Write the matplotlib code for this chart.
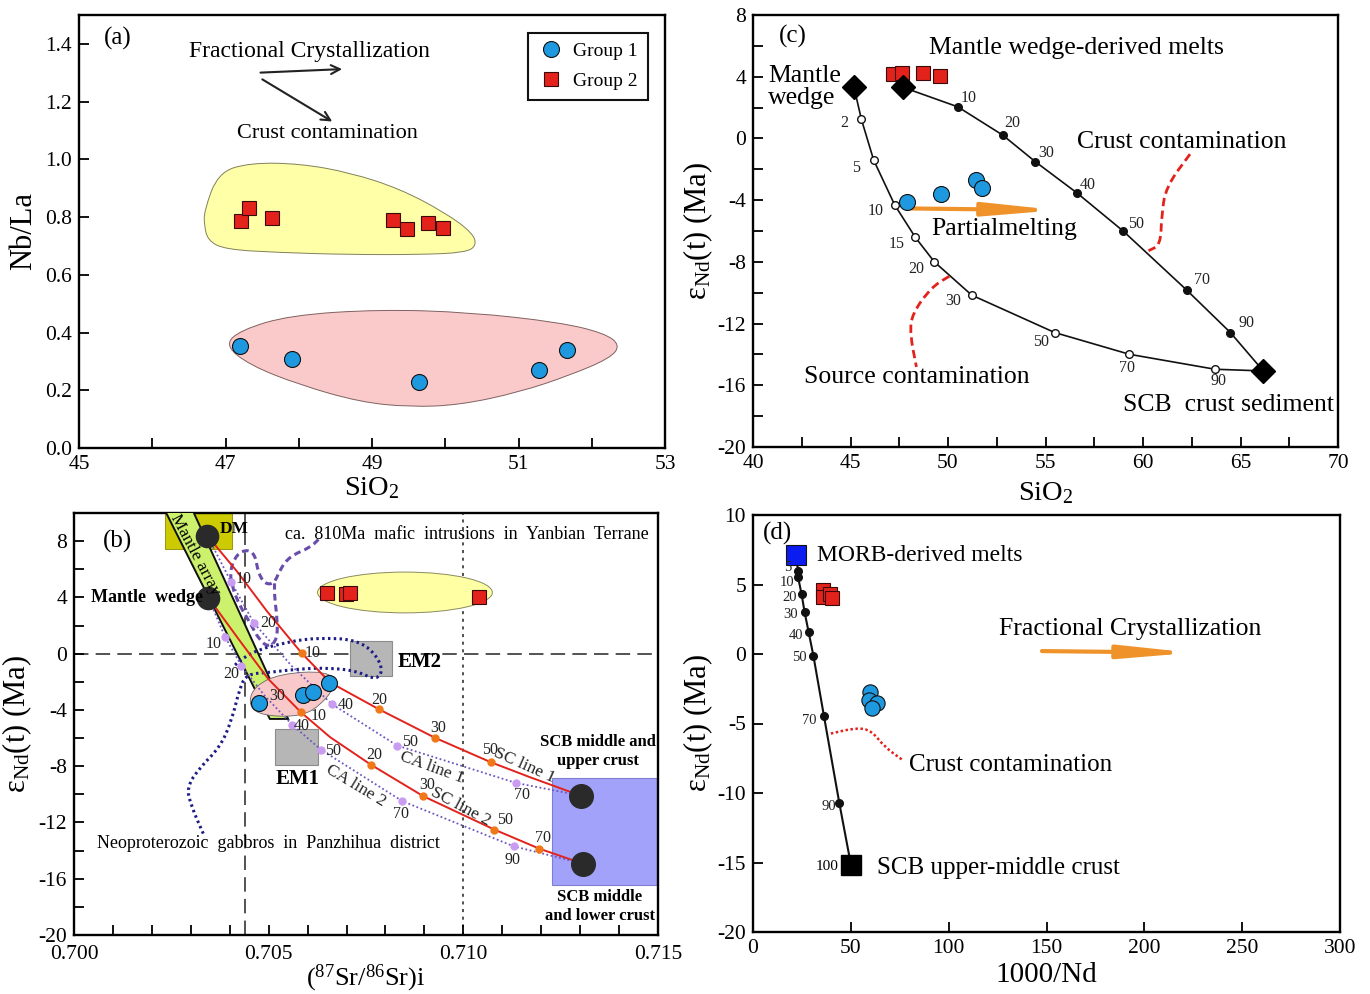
import numpy as np
import matplotlib
matplotlib.use('Agg')
import matplotlib.pyplot as plt
from matplotlib.path import Path
from matplotlib.patches import PathPatch, Rectangle, Polygon, Ellipse
from matplotlib.lines import Line2D
from matplotlib.ticker import MultipleLocator, FixedLocator, FormatStrFormatter

plt.rcParams['font.family'] = ['Liberation Serif', 'DejaVu Serif']
plt.rcParams['mathtext.fontset'] = 'custom'
plt.rcParams['mathtext.rm'] = 'Liberation Serif'
plt.rcParams['mathtext.it'] = 'Liberation Serif:italic'
plt.rcParams['axes.unicode_minus'] = False

# ---------------- data ----------------
# (a) Nb/La vs SiO2
a_g1_x = [47.20, 47.91, 49.64, 51.28, 51.66]
a_g1_y = [0.352, 0.307, 0.228, 0.269, 0.338]
a_g2_x = [47.21, 47.32, 47.63, 49.29, 49.48, 49.76, 49.97]
a_g2_y = [0.787, 0.832, 0.798, 0.791, 0.760, 0.781, 0.763]
a_yellow = [(46.71, 0.822), (46.90, 0.954), (47.33, 0.988), (48.02, 0.985), (48.70, 0.954),
            (49.38, 0.898), (50.00, 0.815), (50.37, 0.746), (50.43, 0.701), (50.27, 0.677),
            (49.66, 0.670), (48.70, 0.670), (47.74, 0.677), (46.99, 0.688), (46.76, 0.719),
            (46.71, 0.771)]
a_pink = [(46.99, 0.356), (47.20, 0.408), (47.88, 0.460), (49.11, 0.480), (50.34, 0.470),
          (51.57, 0.435), (52.18, 0.397), (52.39, 0.356), (52.25, 0.311), (51.70, 0.252),
          (51.02, 0.194), (50.20, 0.149), (49.52, 0.142), (48.84, 0.159), (48.02, 0.218),
          (47.33, 0.287)]

# (c) eNd(t) vs SiO2
c_wedge_x = [45.18, 47.70]
c_wedge_y = [3.31, 3.31]
c_scb = (66.17, -15.07)
c_g2_x = [47.20, 47.66, 48.74, 49.57]
c_g2_y = [4.17, 4.26, 4.22, 4.05]
c_g1_x = [47.88, 49.64, 51.42, 51.76]
c_g1_y = [-4.11, -3.57, -2.70, -3.24]
c_cc_pct = ['10', '20', '30', '40', '50', '70', '90']
c_cc_x = [50.50, 52.80, 54.48, 56.60, 58.99, 62.25, 64.48]
c_cc_y = [2.05, 0.22, -1.51, -3.52, -6.01, -9.84, -12.58]
c_sc_pct = ['2', '5', '10', '15', '20', '30', '50', '70', '90']
c_sc_x = [45.56, 46.19, 47.27, 48.33, 49.30, 51.22, 55.47, 59.30, 63.69]
c_sc_y = [1.23, -1.41, -4.32, -6.42, -8.00, -10.16, -12.58, -13.99, -14.96]
c_crust_curve = [(62.41, -1.02), (61.17, -3.14), (60.95, -5.08), (60.90, -6.90), (60.28, -7.28)]
c_source_curve = [(50.07, -8.93), (49.17, -9.62), (48.16, -11.35), (48.05, -12.65), (48.38, -14.81)]

# (b) eNd(t) vs (87Sr/86Sr)i
b_dm = (0.70342, 8.40)
b_wedge = (0.70345, 3.98)
b_scb_u = (0.71301, -10.09)
b_scb_l = (0.71307, -14.93)
b_g1_x = [0.70475, 0.70587, 0.70615, 0.70654]
b_g1_y = [-3.51, -2.92, -2.69, -2.05]
b_g2_x = [0.70651, 0.70699, 0.70710, 0.71041]
b_g2_y = [4.34, 4.22, 4.34, 4.05]
sc1_path_x = [0.70342, 0.70418, 0.70495, 0.70585, 0.70658, 0.70783, 0.70928, 0.71070, 0.71171, 0.71301]
sc1_path_y = [8.40, 5.87, 3.04, 0.03, -2.05, -3.95, -5.99, -7.71, -8.78, -10.09]
sc1_pct = ['10', '20', '30', '50']
sc1_x = [0.70585, 0.70783, 0.70928, 0.71070]
sc1_y = [0.03, -3.95, -5.99, -7.71]
sc2_path_x = [0.70345, 0.70426, 0.70499, 0.70583, 0.70658, 0.70763, 0.70897, 0.71080, 0.71195, 0.71307]
sc2_path_y = [3.98, 0.91, -1.80, -4.17, -5.94, -7.90, -10.13, -12.51, -13.86, -14.93]
sc2_pct = ['10', '20', '30', '50', '70']
sc2_x = [0.70583, 0.70763, 0.70897, 0.71080, 0.71195]
sc2_y = [-4.17, -7.90, -10.13, -12.51, -13.86]
ca1_path_x = [0.70342, 0.70403, 0.70462, 0.70560, 0.70662, 0.70830, 0.71134, 0.71301]
ca1_path_y = [8.40, 5.13, 2.18, -0.90, -3.58, -6.53, -9.18, -10.09]
ca1_pct = ['10', '20', '40', '50', '70']
ca1_x = [0.70403, 0.70462, 0.70662, 0.70830, 0.71134]
ca1_y = [5.13, 2.18, -3.58, -6.53, -9.18]
ca2_path_x = [0.70345, 0.70388, 0.70430, 0.70490, 0.70561, 0.70634, 0.70843, 0.71129, 0.71307]
ca2_path_y = [3.98, 1.19, -0.86, -3.00, -5.07, -6.82, -10.48, -13.69, -14.93]
ca2_pct = ['10', '20', '40', '50', '70', '90']
ca2_x = [0.70388, 0.70430, 0.70561, 0.70634, 0.70843, 0.71129]
ca2_y = [1.19, -0.86, -5.07, -6.82, -10.48, -13.69]
b_band = [(0.70226, 10.6), (0.70298, 10.6), (0.70550, -4.64), (0.70503, -4.64)]
b_dm_box = (0.70234, 7.43, 0.70406, 10.0)
b_em2 = (0.70709, -1.57, 0.70817, 0.91)
b_em1 = (0.70516, -7.95, 0.70627, -5.33)
b_crust_box = (0.71228, -16.46, 0.71520, -8.87)
b_yellow = (0.70850, 4.35, 0.00449, 2.90)
b_pink = [(0.70448, -3.46), (0.70469, -4.28), (0.70546, -4.52), (0.70615, -4.17), (0.70679, -2.16),
          (0.70649, -1.22), (0.70529, -1.43), (0.70465, -2.28)]
b_yanbian = [(0.70628, 8.12), (0.70606, 7.53), (0.70555, 6.94), (0.70529, 5.99), (0.70515, 5.00),
             (0.70491, 4.93), (0.70473, 5.75), (0.70465, 7.06), (0.70444, 7.41), (0.70418, 7.06),
             (0.70401, 5.99), (0.70405, 4.81), (0.70426, 3.39), (0.70452, 2.21), (0.70475, 1.00),
             (0.70500, 0.45), (0.70522, 1.00), (0.70522, 2.50), (0.70515, 4.00), (0.70515, 5.00)]
b_panzhihua = [(0.70332, -12.79), (0.70302, -10.90), (0.70289, -9.49), (0.70324, -8.07),
               (0.70375, -6.65), (0.70405, -4.76), (0.70426, -2.40), (0.70444, -1.45),
               (0.70503, -1.33), (0.70572, -1.10), (0.70650, -1.00), (0.70726, -1.22),
               (0.70778, -1.92), (0.70795, -1.00), (0.70760, 0.44), (0.70709, 1.03),
               (0.70649, 1.10), (0.70589, 1.03), (0.70529, 0.68), (0.70478, 0.32),
               (0.70435, -0.27), (0.70410, -0.90)]

# (d) eNd(t) vs 1000/Nd
d_morb = (21.9, 7.12)
d_scb = (50.1, -15.2)
d_mix_pct = ['5', '10', '20', '30', '40', '50', '70', '90']
d_mix_x = [23.06, 23.06, 24.85, 26.40, 28.40, 30.90, 36.27, 44.10]
d_mix_y = [5.99, 5.51, 4.29, 2.99, 1.60, -0.15, -4.47, -10.71]
d_g2_x = [35.6, 36.0, 39.6, 40.5]
d_g2_y = [4.60, 4.10, 4.30, 4.05]
d_g1_x = [59.8, 59.3, 63.4, 60.9]
d_g1_y = [-2.72, -3.32, -3.51, -3.92]
d_crust_curve = [(39.8, -5.72), (52.6, -5.31), (60.4, -5.48), (67.2, -6.68), (76.1, -7.59)]

BLUE = '#1E98DE'
RED = '#E3221C'
ORANGE = '#F0922A'
ARROW = dict(arrowstyle='-|>,head_length=3.4,head_width=0.32', lw=3.0, color=ORANGE,
             mutation_scale=12, shrinkA=0, shrinkB=0)


def smooth(pts, closed=True):
    p = np.asarray(pts, float)
    n = len(p)
    if closed:
        mids = (p + np.roll(p, -1, axis=0)) / 2
        verts = [mids[-1]]
        codes = [Path.MOVETO]
        for i in range(n):
            verts += [p[i], mids[i]]
            codes += [Path.CURVE3, Path.CURVE3]
        verts.append(mids[-1]); codes.append(Path.CLOSEPOLY)
    else:
        mids = (p[:-1] + p[1:]) / 2
        verts = [p[0], mids[0]]
        codes = [Path.MOVETO, Path.LINETO]
        for i in range(1, n - 1):
            verts += [p[i], mids[i]]
            codes += [Path.CURVE3, Path.CURVE3]
        verts.append(p[-1]); codes.append(Path.LINETO)
    return Path(verts, codes)


def style(ax, xpad=5):
    for s in ax.spines.values():
        s.set_linewidth(1.7)
    ax.tick_params(which='both', direction='in', length=7, width=1.3, labelsize=15.5, pad=5)
    ax.tick_params(axis='x', which='both', pad=xpad)


def pct_labels(ax, xs, ys, labs, offs, fs=11, color='#222'):
    for x, y, t, (dx, dy) in zip(xs, ys, labs, offs):
        ax.annotate(t, (x, y), xytext=(dx, dy), textcoords='offset points',
                    ha='center', va='center', fontsize=fs, color=color, zorder=8)


fig = plt.figure(figsize=(13.7, 9.94), dpi=100)
W, H = 1370, 994


def box(l, t, r, b):
    return [l / W, 1 - b / H, (r - l) / W, (b - t) / H]


ax_a = fig.add_axes(box(79, 15, 665, 448))
ax_c = fig.add_axes(box(753, 15, 1338, 447))
ax_b = fig.add_axes(box(74, 513, 658, 935))
ax_d = fig.add_axes(box(753, 515, 1340, 932))
eps_label = r'$\mathregular{\varepsilon_{Nd}}$(t) (Ma)'

# ================= (a) =================
ax = ax_a
style(ax)
ax.set_xlim(45, 53); ax.set_ylim(0, 1.5)
ax.xaxis.set_major_locator(FixedLocator([45, 47, 49, 51, 53]))
ax.xaxis.set_minor_locator(MultipleLocator(1))
ax.yaxis.set_major_locator(MultipleLocator(0.2))
ax.yaxis.set_major_formatter(FormatStrFormatter('%.1f'))
ax.add_patch(PathPatch(smooth(a_yellow), fc='#FFFFA8', ec='#80805a', lw=0.7, zorder=1))
ax.add_patch(PathPatch(smooth(a_pink), fc='#FACACA', ec='#806060', lw=0.7, zorder=1))
ax.plot(a_g1_x, a_g1_y, 'o', ms=11.5, mfc=BLUE, mec='#111', mew=0.8, ls='none', zorder=5)
ax.plot(a_g2_x, a_g2_y, 's', ms=10.5, mfc=RED, mec='#3a0a0a', mew=0.8, ls='none', zorder=5)
ax.text(45.53, 1.42, '(a)', fontsize=18, ha='center', va='center')
ax.text(48.15, 1.375, 'Fractional Crystallization', fontsize=17, ha='center', va='center')
ax.annotate('', xy=(48.63, 1.313), xytext=(47.44, 1.300),
            arrowprops=dict(arrowstyle='->', lw=1.5, color='#222', mutation_scale=16))
ax.annotate('', xy=(48.49, 1.126), xytext=(47.47, 1.282),
            arrowprops=dict(arrowstyle='->', lw=1.5, color='#222', mutation_scale=16))
ax.text(48.39, 1.088, 'Crust contamination', fontsize=16, ha='center', va='center')
hd = [Line2D([], [], marker='o', ms=11.5, mfc=BLUE, mec='#111', mew=0.8, ls='none'),
      Line2D([], [], marker='s', ms=10.5, mfc=RED, mec='#3a0a0a', mew=0.8, ls='none')]
leg = ax.legend(hd, ['Group 1', 'Group 2'], loc='upper right', fontsize=14, fancybox=False,
                edgecolor='#111', borderaxespad=0.9, handletextpad=0.5, labelspacing=0.65,
                borderpad=0.5, handlelength=1.3, framealpha=1)
leg.get_frame().set_linewidth(1.5)
ax.set_xlabel(r'SiO$_\mathregular{2}$', fontsize=20.5, labelpad=1)
ax.set_ylabel('Nb/La', fontsize=22, labelpad=5)

# ================= (c) =================
ax = ax_c
style(ax)
ax.set_xlim(40, 70); ax.set_ylim(-20, 8)
ax.xaxis.set_major_locator(MultipleLocator(5))
ax.xaxis.set_minor_locator(MultipleLocator(2.5))
ax.yaxis.set_major_locator(MultipleLocator(4))
ax.yaxis.set_minor_locator(MultipleLocator(2))
ax.plot([c_wedge_x[1]] + c_cc_x + [c_scb[0]], [c_wedge_y[1]] + c_cc_y + [c_scb[1]],
        color='#111', lw=1.2, zorder=3)
ax.plot([c_wedge_x[0]] + c_sc_x + [c_scb[0]], [c_wedge_y[0]] + c_sc_y + [c_scb[1]],
        color='#111', lw=1.2, zorder=3)
ax.plot(c_cc_x, c_cc_y, 'o', ms=5.5, mfc='#111', mec='#111', ls='none', zorder=4)
ax.plot(c_sc_x, c_sc_y, 'o', ms=5.5, mfc='white', mec='#111', mew=1, ls='none', zorder=4)
pct_labels(ax, c_cc_x, c_cc_y, c_cc_pct,
           [(7.6, 6.5), (7, 8.4), (7.6, 6.5), (7.9, 5.5), (9.5, 5.5), (10.7, 7.7), (11.4, 6.5)],
           fs=11.5)
pct_labels(ax, c_sc_x, c_sc_y, c_sc_pct,
           [(-12.3, -2.9), (-12.7, -5.5), (-13.6, -4.1), (-13.2, -4.8), (-13, -4.8),
            (-13.2, -4.3), (-9.5, -6.7), (-1.6, -9.6), (2.5, -8.4)], fs=11.5)
ax.plot(c_g2_x, c_g2_y, 's', ms=10.5, mfc=RED, mec='#3a0a0a', mew=0.8, ls='none', zorder=5)
ax.plot(c_g1_x, c_g1_y, 'o', ms=11.5, mfc=BLUE, mec='#111', mew=0.8, ls='none', zorder=5)
ax.plot(c_wedge_x + [c_scb[0]], c_wedge_y + [c_scb[1]], 'D', ms=12.5, mfc='black', mec='black',
        ls='none', zorder=6)
ax.add_patch(PathPatch(smooth(c_crust_curve, closed=False), fill=False, ec=RED, lw=2,
                       ls=(0, (3, 1.6)), zorder=4))
ax.add_patch(PathPatch(smooth(c_source_curve, closed=False), fill=False, ec=RED, lw=2,
                       ls=(0, (3, 1.6)), zorder=4))
ax.annotate('', xy=(55.6, -4.65), xytext=(48.1, -4.54), arrowprops=ARROW, zorder=4)
ax.text(42.03, 6.59, '(c)', fontsize=18, ha='center', va='center')
ax.text(49.03, 5.86, 'Mantle wedge-derived melts', fontsize=18.5, ha='left', va='center')
ax.text(40.77, 3.33, 'Mantle\nwedge', fontsize=18.5, ha='left', va='center', linespacing=1.05)
ax.text(56.6, -0.23, 'Crust contamination', fontsize=18.5, ha='left', va='center')
ax.text(49.13, -5.87, 'Partialmelting', fontsize=18.5, ha='left', va='center')
ax.text(42.62, -15.46, 'Source contamination', fontsize=18.5, ha='left', va='center')
ax.text(58.97, -17.27, 'SCB  crust sediment', fontsize=18.5, ha='left', va='center')
ax.set_xlabel(r'SiO$_\mathregular{2}$', fontsize=20.5, labelpad=5)
ax.set_ylabel(eps_label, fontsize=22, labelpad=2)

# ================= (b) =================
ax = ax_b
style(ax, xpad=7)
ax.set_xlim(0.700, 0.715); ax.set_ylim(-20, 10)
ax.xaxis.set_major_locator(MultipleLocator(0.005))
ax.xaxis.set_minor_locator(MultipleLocator(0.001))
ax.xaxis.set_major_formatter(FormatStrFormatter('%.3f'))
ax.yaxis.set_major_locator(FixedLocator([-20, -16, -12, -8, -4, 0, 4, 8]))
ax.yaxis.set_minor_locator(MultipleLocator(2))
ax.axhline(0, color='#444', lw=1.3, ls=(0, (8, 4)), zorder=1)
ax.axvline(0.7044, color='#444', lw=1.3, ls=(0, (8, 4)), zorder=1)
ax.axvline(0.7100, color='#222', lw=1.1, ls=(0, (2, 3)), zorder=1)
x0, y0, x1, y1 = b_dm_box
ax.add_patch(Rectangle((x0, y0), x1 - x0, y1 - y0, fc='#CCCA00', ec='#8a8a00', lw=0.6, zorder=2))
for r in (b_em2, b_em1):
    ax.add_patch(Rectangle((r[0], r[1]), r[2] - r[0], r[3] - r[1], fc='#B6B6B6', ec='#8c8c8c',
                           lw=0.8, zorder=2))
x0, y0, x1, y1 = b_crust_box
ax.add_patch(Rectangle((x0, y0), x1 - x0, y1 - y0, fc='#A2A2FA', ec='#7f7fd0', lw=0.8, zorder=2))
ax.add_patch(Ellipse(b_yellow[:2], b_yellow[2], b_yellow[3], fc='#FFFFA4', ec='#8a8a60', lw=0.7,
                     zorder=2))
ax.add_patch(Polygon(b_band, closed=True, fc='#CCF16C', ec='#111', lw=1.4, zorder=3))
ax.add_patch(PathPatch(smooth(b_pink), fc='#F9C9C9', ec='#666', lw=0.6, zorder=3))
ax.add_patch(PathPatch(smooth(b_yanbian, closed=False), fill=False, ec='#6A4CAA', lw=2.2,
                       ls=(0, (2.2, 1.4)), zorder=4))
ax.add_patch(PathPatch(smooth(b_panzhihua, closed=False), fill=False, ec='#1C1C86', lw=2.2,
                       ls=(0, (0.8, 1.1)), zorder=4))
ax.plot(sc1_path_x, sc1_path_y, color=RED, lw=1.4, zorder=5)
ax.plot(sc2_path_x, sc2_path_y, color=RED, lw=1.4, zorder=5)
ax.plot(ca1_path_x, ca1_path_y, color='#6E56BE', lw=1.3, ls=(0, (1, 1.4)), zorder=5)
ax.plot(ca2_path_x, ca2_path_y, color='#6E56BE', lw=1.3, ls=(0, (1, 1.4)), zorder=5)
ax.plot(sc1_x + sc2_x, sc1_y + sc2_y, 'o', ms=5, mfc='#F07818', mec='#F07818', ls='none', zorder=6)
ax.plot(ca1_x + ca2_x, ca1_y + ca2_y, 'o', ms=5, mfc='#C99CF2', mec='#C99CF2', ls='none', zorder=6)
pct_labels(ax, sc1_x, sc1_y, sc1_pct, [(8.1, 0.5), (0, 6.9), (2.2, 7.2), (-0.7, 8.4)], fs=11.5)
pct_labels(ax, sc2_x, sc2_y, sc2_pct, [(12.8, -2.8), (2.2, 6.7), (2.5, 7.7), (7.6, 6.7), (2.5, 7.9)],
           fs=11.5)
pct_labels(ax, ca1_x, ca1_y, ca1_pct, [(9, 1.7), (10.4, 0.3), (10.4, -0.7), (9.2, 2.3), (4.5, -8.6)],
           fs=11.5)
pct_labels(ax, ca2_x, ca2_y, ca2_pct,
           [(-8.4, -5.2), (-7, -6), (6.5, -0.6), (9, -0.7), (-1.2, -9.6), (-0.7, -9.6)], fs=11.5)
ax.text(0.70521, -2.99, '30', fontsize=11.5, ha='center', va='center', color='#222', zorder=8)
ax.plot([b_dm[0], b_wedge[0]], [b_dm[1], b_wedge[1]], 'o', ms=16, mfc='#2a2a2a', mec='#2a2a2a',
        ls='none', zorder=7)
ax.plot([b_scb_u[0], b_scb_l[0]], [b_scb_u[1], b_scb_l[1]], 'o', ms=17, mfc='#2a2a2a',
        mec='#2a2a2a', ls='none', zorder=7)
ax.plot(b_g2_x, b_g2_y, 's', ms=10.5, mfc=RED, mec='#3a0a0a', mew=0.8, ls='none', zorder=7)
ax.plot(b_g1_x, b_g1_y, 'o', ms=11.5, mfc=BLUE, mec='#111', mew=0.8, ls='none', zorder=7)
ax.text(0.70113, 8.0, '(b)', fontsize=18, ha='center', va='center')
ax.text(0.70311, 7.0, 'Mantle array', fontsize=12.5, rotation=-62, ha='center', va='center',
        zorder=8)
ax.text(0.70373, 8.83, 'DM', fontsize=12.5, fontweight='bold', ha='left', va='center', zorder=8)
ax.text(0.70331, 4.0, 'Mantle  wedge', fontsize=13, fontweight='bold', ha='right',
        va='center', zorder=8)
ax.text(0.70542, 8.5, 'ca.  810Ma  mafic  intrusions  in  Yanbian  Terrane', fontsize=13,
        ha='left', va='center', zorder=8)
ax.text(0.70059, -13.48, 'Neoproterozoic  gabbros  in  Panzhihua  district', fontsize=13,
        ha='left', va='center', zorder=8)
ax.text(0.70830, -0.58, 'EM2', fontsize=15, fontweight='bold', ha='left', va='center', zorder=8)
ax.text(0.70575, -8.94, 'EM1', fontsize=15, fontweight='bold', ha='center', va='center', zorder=8)
ax.text(0.71346, -6.96, 'SCB middle and\nupper crust', fontsize=12, fontweight='bold',
        ha='center', va='center', linespacing=1.25, zorder=8)
ax.text(0.71351, -17.94, 'SCB middle\nand lower crust', fontsize=12, fontweight='bold',
        ha='center', va='center', linespacing=1.25, zorder=8)
for t, x, y, rot in [('SC line 1', 0.71158, -7.95, -24), ('SC line 2', 0.70992, -10.91, -28),
                     ('CA line 1', 0.70919, -8.14, -20), ('CA line 2', 0.70724, -9.37, -31)]:
    ax.text(x, y, t, fontsize=12.5, rotation=rot, ha='center', va='center', color='#222', zorder=8)
ax.set_xlabel(r'($\mathregular{^{87}}$Sr/$\mathregular{^{86}}$Sr)i', fontsize=19, labelpad=-1)
ax.set_ylabel(eps_label, fontsize=22, labelpad=3)

# ================= (d) =================
ax = ax_d
style(ax)
ax.set_xlim(0, 300); ax.set_ylim(-20, 10)
ax.xaxis.set_major_locator(MultipleLocator(50))
ax.yaxis.set_major_locator(MultipleLocator(5))
ax.plot([d_morb[0]] + d_mix_x + [d_scb[0]], [d_morb[1]] + d_mix_y + [d_scb[1]],
        color='#111', lw=1.5, zorder=3)
ax.plot(d_mix_x, d_mix_y, 'o', ms=5.5, mfc='#111', mec='#111', ls='none', zorder=4)
pct_labels(ax, d_mix_x, d_mix_y, d_mix_pct,
           [(-7.3, 2.0), (-7.9, -3.6), (-8.9, -2.4), (-9.8, -1.2), (-9.1, -2.4), (-10.4, -1.2),
            (-10.7, -2.9), (-7.6, -2.4)], fs=10.5)
ax.annotate('100', d_scb, xytext=(-17, -0.7), textcoords='offset points', ha='center',
            va='center', fontsize=11, zorder=8)
ax.plot(*d_morb, 's', ms=15, mfc='#0A1CF0', mec='#111', mew=0.8, zorder=6)
ax.plot(*d_scb, 's', ms=15, mfc='black', mec='black', zorder=6)
ax.plot(d_g2_x, d_g2_y, 's', ms=10.5, mfc=RED, mec='#3a0a0a', mew=0.8, ls='none', zorder=5)
ax.plot(d_g1_x, d_g1_y, 'o', ms=11, mfc=BLUE, mec='#111', mew=0.8, ls='none', zorder=5)
ax.add_patch(PathPatch(smooth(d_crust_curve, closed=False), fill=False, ec=RED, lw=1.8,
                       ls=(0, (1, 1)), zorder=4))
ax.annotate('', xy=(224.5, 0.09), xytext=(147.7, 0.21), arrowprops=ARROW, zorder=4)
ax.text(12.3, 8.68, '(d)', fontsize=18, ha='center', va='center')
ax.text(32.9, 7.12, 'MORB-derived melts', fontsize=17, ha='left', va='center')
ax.text(125.8, 1.77, 'Fractional Crystallization', fontsize=18.5, ha='left', va='center')
ax.text(79.5, -8.0, 'Crust contamination', fontsize=18, ha='left', va='center')
ax.text(63.4, -15.39, 'SCB upper-middle crust', fontsize=18, ha='left', va='center')
ax.set_xlabel('1000/Nd', fontsize=21, labelpad=3)
ax.set_ylabel(eps_label, fontsize=22, labelpad=2)

fig.savefig('out.png', dpi=100, facecolor='white')
